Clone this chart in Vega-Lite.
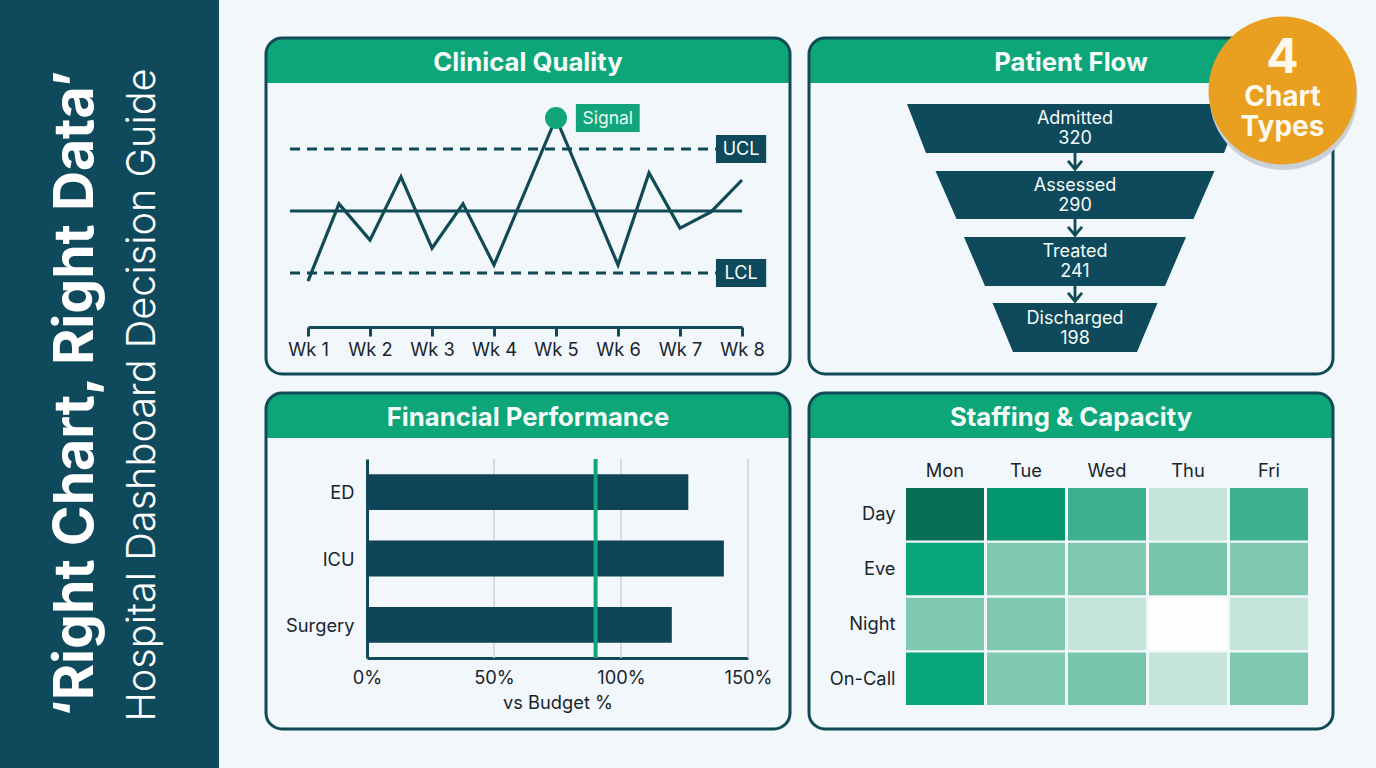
{"$schema":"https://vega.github.io/schema/vega-lite/v6.json","background":"#f2f7fb","padding":0,"autosize":{"type":"pad"},"spacing":0,
"config":{"view":{"stroke":null},"font":"Inter","axis":{"labelFont":"Inter","titleFont":"Inter","labelColor":"#17252c","titleColor":"#17252c","labelFontSize":18.3,"titleFontSize":18.3,"titleFontWeight":"normal","grid":false,"labelOverlap":false},"text":{"font":"Inter"}},
"hconcat":[
{"width":219,"height":768,"view":{"fill":"#0f4a5c","stroke":null},"data":{"values":[{"title":"‘Right Chart, Right Data’","subtitle":"Hospital Dashboard Decision Guide"}]},
"layer":[
{"mark":{"type":"text","angle":270,"fontSize":55.3,"fontWeight":"bold","color":"#ffffff","align":"center","baseline":"middle"},"encoding":{"text":{"field":"title"},"x":{"datum":76,"type":"quantitative","scale":{"domain":[0,219]},"axis":null},"y":{"datum":394,"type":"quantitative","scale":{"domain":[768,0]},"axis":null}}},
{"mark":{"type":"text","angle":270,"fontSize":39.7,"fontWeight":300,"color":"#ffffff","align":"center","baseline":"middle"},"encoding":{"text":{"field":"subtitle"},"x":{"datum":143,"type":"quantitative","scale":{"domain":[0,219]},"axis":null},"y":{"datum":395,"type":"quantitative","scale":{"domain":[768,0]},"axis":null}}}
]},
{"width":45,"height":1,"data":{"values":[{"s":1}]},"mark":{"type":"rect","opacity":0}},
{"bounds":"flush","spacing":0,"vconcat":[
{"width":1,"height":38,"data":{"values":[{"s":1}]},"mark":{"type":"rect","opacity":0}},
{"bounds":"flush","spacing":19,"columns":2,"concat":[
{"width":524,"height":336,"resolve":{"scale":{"x":"independent","y":"independent"}},"layer":[
{"data":{"values":[{"panel":"Clinical Quality"}]},"layer":[
{"mark":{"type":"rect","fill":"#0ca678","cornerRadiusTopLeft":15,"cornerRadiusTopRight":15},"encoding":{"x":{"datum":0,"type":"quantitative","scale":{"domain":[0,1]},"axis":null},"x2":{"datum":1},"y":{"datum":0.866,"type":"quantitative","scale":{"domain":[0,1]},"axis":null},"y2":{"datum":1}}},
{"mark":{"type":"text","fontSize":25.7,"fontWeight":"bold","color":"#f4fbf8","align":"center","baseline":"middle"},"encoding":{"text":{"field":"panel"},"x":{"datum":0.5,"type":"quantitative","scale":{"domain":[0,1]},"axis":null},"y":{"datum":0.927,"type":"quantitative","scale":{"domain":[0,1]},"axis":null}}},
{"mark":{"type":"rect","filled":false,"stroke":"#0f4a56","strokeWidth":3,"cornerRadius":16},"encoding":{"x":{"datum":0,"type":"quantitative","scale":{"domain":[0,1]},"axis":null},"x2":{"datum":1},"y":{"datum":0,"type":"quantitative","scale":{"domain":[0,1]},"axis":null},"y2":{"datum":1}}}
]},
{"layer":[
{"data":{"values":[{"name":"UCL","v":120,"from":0.71,"to":7.58},{"name":"LCL","v":80,"from":0.71,"to":7.58}]},"mark":{"type":"rule","stroke":"#0f4a56","strokeWidth":3,"strokeDash":[10,7]},"encoding":{"x":{"field":"from","type":"quantitative","scale":{"domain":[1,8],"range":[42,476],"nice":false,"zero":false},"title":null,"axis":{"values":[1,2,3,4,5,6,7,8],"labelExpr":"'Wk ' + datum.value","offset":-47,"domainColor":"#0f4a56","domainWidth":3,"tickColor":"#0f4a56","tickWidth":3,"tickSize":9,"labelPadding":5,"labelBaseline":"top","labelFlush":false}},"x2":{"field":"to"},"y":{"field":"v","type":"quantitative","axis":null,"scale":{"domain":[80,120],"range":[235,111],"nice":false,"zero":false}}}},
{"data":{"values":[{"name":"Mean","v":100,"from":0.71,"to":8}]},"mark":{"type":"rule","stroke":"#0f4a56","strokeWidth":2.8},"encoding":{"x":{"field":"from","type":"quantitative"},"x2":{"field":"to"},"y":{"field":"v","type":"quantitative"}}},
{"data":{"values":[{"week":1,"v":77.4},{"week":1.5,"v":102.3},{"week":2,"v":90.6},{"week":2.5,"v":111},{"week":3,"v":88},{"week":3.5,"v":102.3},{"week":4,"v":82.6},{"week":5,"v":130},{"week":6,"v":82.6},{"week":6.5,"v":112.3},{"week":7,"v":94.5},{"week":7.5,"v":99.7},{"week":8,"v":110}]},"mark":{"type":"line","stroke":"#0f4a56","strokeWidth":3.2,"strokeJoin":"miter"},"encoding":{"x":{"field":"week","type":"quantitative"},"y":{"field":"v","type":"quantitative"}}},
{"data":{"values":[{"week":5,"v":130}]},"mark":{"type":"point","filled":true,"opacity":1,"fill":"#12a57c","size":484},"encoding":{"x":{"field":"week","type":"quantitative"},"y":{"field":"v","type":"quantitative"}}},
{"data":{"values":[{"name":"UCL","a":7.58,"b":8.39,"lo":115.5,"hi":124.5,"mid":119.6,"c":7.985},{"name":"LCL","a":7.58,"b":8.39,"lo":75.5,"hi":84.5,"mid":79.6,"c":7.985}]},"layer":[
{"mark":{"type":"rect","fill":"#0f4a5c"},"encoding":{"x":{"field":"a","type":"quantitative"},"x2":{"field":"b"},"y":{"field":"lo","type":"quantitative"},"y2":{"field":"hi"}}},
{"mark":{"type":"text","fontSize":18,"color":"#f4fbf8","align":"center","baseline":"middle"},"encoding":{"text":{"field":"name"},"x":{"field":"c","type":"quantitative"},"y":{"field":"mid","type":"quantitative"}}}
]},
{"data":{"values":[{"name":"Signal","a":5.32,"b":6.35,"lo":125.5,"hi":134.5,"mid":129.7,"c":5.835}]},"layer":[
{"mark":{"type":"rect","fill":"#12a57c"},"encoding":{"x":{"field":"a","type":"quantitative"},"x2":{"field":"b"},"y":{"field":"lo","type":"quantitative"},"y2":{"field":"hi"}}},
{"mark":{"type":"text","fontSize":17.5,"color":"#eafaf4","align":"center","baseline":"middle"},"encoding":{"text":{"field":"name"},"x":{"field":"c","type":"quantitative"},"y":{"field":"mid","type":"quantitative"}}}
]}
]}
]},
{"width":524,"height":336,"resolve":{"scale":{"x":"independent","y":"independent"}},"layer":[
{"data":{"values":[{"panel":"Patient Flow"}]},"layer":[
{"mark":{"type":"rect","fill":"#0ca678","cornerRadiusTopLeft":15,"cornerRadiusTopRight":15},"encoding":{"x":{"datum":0,"type":"quantitative","scale":{"domain":[0,1]},"axis":null},"x2":{"datum":1},"y":{"datum":0.866,"type":"quantitative","scale":{"domain":[0,1]},"axis":null},"y2":{"datum":1}}},
{"mark":{"type":"text","fontSize":25.7,"fontWeight":"bold","color":"#f4fbf8","align":"center","baseline":"middle"},"encoding":{"text":{"field":"panel"},"x":{"datum":0.5,"type":"quantitative","scale":{"domain":[0,1]},"axis":null},"y":{"datum":0.927,"type":"quantitative","scale":{"domain":[0,1]},"axis":null}}},
{"mark":{"type":"rect","filled":false,"stroke":"#0f4a56","strokeWidth":3,"cornerRadius":16},"encoding":{"x":{"datum":0,"type":"quantitative","scale":{"domain":[0,1]},"axis":null},"x2":{"datum":1},"y":{"datum":0,"type":"quantitative","scale":{"domain":[0,1]},"axis":null},"y2":{"datum":1}}}
]},
{"layer":[
{"data":{"values":[{"stage":"Admitted","p":0,"lo":-168,"hi":168},{"stage":"Admitted","p":49,"lo":-149,"hi":149},{"stage":"Assessed","p":67,"lo":-139.5,"hi":139.5},{"stage":"Assessed","p":115,"lo":-118.5,"hi":118.5},{"stage":"Treated","p":133,"lo":-111,"hi":111},{"stage":"Treated","p":182,"lo":-90,"hi":90},{"stage":"Discharged","p":199,"lo":-82.5,"hi":82.5},{"stage":"Discharged","p":248,"lo":-62,"hi":62}]},"mark":{"type":"area","orient":"horizontal","fill":"#0f4a5c","opacity":1},"encoding":{"x":{"field":"lo","type":"quantitative","axis":null,"scale":{"domain":[-168,168],"range":[98,434],"nice":false,"zero":false}},"x2":{"field":"hi"},"y":{"field":"p","type":"quantitative","axis":null,"scale":{"domain":[0,248],"range":[66,314],"nice":false,"zero":false}},"detail":{"field":"stage"}}},
{"data":{"values":[{"from":49,"to":66,"head":61},{"from":115,"to":132,"head":127},{"from":182,"to":198,"head":193}]},"layer":[
{"mark":{"type":"rule","stroke":"#0f4a56","strokeWidth":2.8},"encoding":{"x":{"datum":0,"type":"quantitative"},"y":{"field":"from","type":"quantitative"},"y2":{"field":"to"}}},
{"mark":{"type":"point","shape":"M-1,-0.6L0,0.6L1,-0.6","filled":false,"stroke":"#0f4a56","strokeWidth":2.8,"size":196,"opacity":1},"encoding":{"x":{"datum":0,"type":"quantitative"},"y":{"field":"head","type":"quantitative"}}}
]},
{"data":{"values":[{"stage":"Admitted","count":320,"a":15,"b":35},{"stage":"Assessed","count":290,"a":82,"b":102},{"stage":"Treated","count":241,"a":148,"b":168},{"stage":"Discharged","count":198,"a":215,"b":235}]},"layer":[
{"mark":{"type":"text","fontSize":18,"color":"#f4fbf8","align":"center","baseline":"middle"},"encoding":{"text":{"field":"stage"},"x":{"datum":0,"type":"quantitative"},"y":{"field":"a","type":"quantitative"}}},
{"mark":{"type":"text","fontSize":18,"color":"#f4fbf8","align":"center","baseline":"middle"},"encoding":{"text":{"field":"count"},"x":{"datum":0,"type":"quantitative"},"y":{"field":"b","type":"quantitative"}}}
]},
{"data":{"values":[{"name":"shadow"}]},"mark":{"type":"point","filled":true,"fill":"#c9d0d8","opacity":1,"size":21900},"encoding":{"x":{"datum":208.5,"type":"quantitative"},"y":{"datum":-8,"type":"quantitative"}}},
{"data":{"values":[{"name":"badge"}]},"mark":{"type":"point","filled":true,"fill":"#e99f20","opacity":1,"size":21900},"encoding":{"x":{"datum":207.5,"type":"quantitative"},"y":{"datum":-13.5,"type":"quantitative"}}},
{"data":{"values":[{"n":"4"}]},"mark":{"type":"text","fontSize":48,"fontWeight":"bold","color":"#fff8ec","align":"center","baseline":"middle"},"encoding":{"text":{"field":"n"},"x":{"datum":207.5,"type":"quantitative"},"y":{"datum":-45,"type":"quantitative"}}},
{"data":{"values":[{"n":"Chart"}]},"mark":{"type":"text","fontSize":28,"fontWeight":"bold","color":"#fff8ec","align":"center","baseline":"middle"},"encoding":{"text":{"field":"n"},"x":{"datum":207.5,"type":"quantitative"},"y":{"datum":-6,"type":"quantitative"}}},
{"data":{"values":[{"n":"Types"}]},"mark":{"type":"text","fontSize":28,"fontWeight":"bold","color":"#fff8ec","align":"center","baseline":"middle"},"encoding":{"text":{"field":"n"},"x":{"datum":207.5,"type":"quantitative"},"y":{"datum":24,"type":"quantitative"}}}
]}
]},
{"width":524,"height":336,"resolve":{"scale":{"x":"independent","y":"independent"}},"layer":[
{"data":{"values":[{"panel":"Financial Performance"}]},"layer":[
{"mark":{"type":"rect","fill":"#0ca678","cornerRadiusTopLeft":15,"cornerRadiusTopRight":15},"encoding":{"x":{"datum":0,"type":"quantitative","scale":{"domain":[0,1]},"axis":null},"x2":{"datum":1},"y":{"datum":0.866,"type":"quantitative","scale":{"domain":[0,1]},"axis":null},"y2":{"datum":1}}},
{"mark":{"type":"text","fontSize":25.7,"fontWeight":"bold","color":"#f4fbf8","align":"center","baseline":"middle"},"encoding":{"text":{"field":"panel"},"x":{"datum":0.5,"type":"quantitative","scale":{"domain":[0,1]},"axis":null},"y":{"datum":0.927,"type":"quantitative","scale":{"domain":[0,1]},"axis":null}}},
{"mark":{"type":"rect","filled":false,"stroke":"#0f4a56","strokeWidth":3,"cornerRadius":16},"encoding":{"x":{"datum":0,"type":"quantitative","scale":{"domain":[0,1]},"axis":null},"x2":{"datum":1},"y":{"datum":0,"type":"quantitative","scale":{"domain":[0,1]},"axis":null},"y2":{"datum":1}}}
]},
{"resolve":{"scale":{"y":"independent"}},"layer":[
{"data":{"values":[{"pct":50},{"pct":100},{"pct":150}]},"mark":{"type":"rule","stroke":"#cbd2d7","strokeWidth":1.5},"encoding":{"x":{"field":"pct","type":"quantitative","title":"vs Budget %","scale":{"domain":[0,150],"range":[101,482],"nice":false},"axis":{"values":[0,50,100,150],"labelExpr":"datum.value + '%'","offset":-71,"domainColor":"#0f4a56","domainWidth":3,"ticks":false,"labelPadding":11,"titlePadding":8,"labelFlush":false}},"y":{"datum":0,"type":"quantitative","axis":null,"scale":{"domain":[0,1],"range":[265,66]}},"y2":{"datum":1}}},
{"data":{"values":[{"dept":"ED","pct":126.5},{"dept":"ICU","pct":140.5},{"dept":"Surgery","pct":120}]},"mark":{"type":"bar","fill":"#0f4456","opacity":1},"encoding":{"x":{"field":"pct","type":"quantitative"},"y":{"field":"dept","type":"nominal","title":null,"sort":["ED","ICU","Surgery"],"scale":{"domain":["ED","ICU","Surgery"],"range":[66,265],"paddingInner":0.459,"paddingOuter":0.2295},"axis":{"offset":-101,"domainColor":"#0f4a56","domainWidth":3,"ticks":false,"labelPadding":13,"labelOffset":2}}}},
{"data":{"values":[{"target":90}]},"mark":{"type":"rule","stroke":"#12a57c","strokeWidth":4},"encoding":{"x":{"field":"target","type":"quantitative"},"y":{"datum":0,"type":"quantitative","axis":null,"scale":{"domain":[0,1],"range":[265,66]}},"y2":{"datum":1}}}
]}
]},
{"width":524,"height":336,"resolve":{"scale":{"x":"independent","y":"independent"}},"layer":[
{"data":{"values":[{"panel":"Staffing & Capacity"}]},"layer":[
{"mark":{"type":"rect","fill":"#0ca678","cornerRadiusTopLeft":15,"cornerRadiusTopRight":15},"encoding":{"x":{"datum":0,"type":"quantitative","scale":{"domain":[0,1]},"axis":null},"x2":{"datum":1},"y":{"datum":0.866,"type":"quantitative","scale":{"domain":[0,1]},"axis":null},"y2":{"datum":1}}},
{"mark":{"type":"text","fontSize":25.7,"fontWeight":"bold","color":"#f4fbf8","align":"center","baseline":"middle"},"encoding":{"text":{"field":"panel"},"x":{"datum":0.5,"type":"quantitative","scale":{"domain":[0,1]},"axis":null},"y":{"datum":0.927,"type":"quantitative","scale":{"domain":[0,1]},"axis":null}}},
{"mark":{"type":"rect","filled":false,"stroke":"#0f4a56","strokeWidth":3,"cornerRadius":16},"encoding":{"x":{"datum":0,"type":"quantitative","scale":{"domain":[0,1]},"axis":null},"x2":{"datum":1},"y":{"datum":0,"type":"quantitative","scale":{"domain":[0,1]},"axis":null},"y2":{"datum":1}}}
]},
{"data":{"values":[
{"shift":"Day","day":"Mon","v":98},{"shift":"Day","day":"Tue","v":85},{"shift":"Day","day":"Wed","v":65},{"shift":"Day","day":"Thu","v":25},{"shift":"Day","day":"Fri","v":65},
{"shift":"Eve","day":"Mon","v":80},{"shift":"Eve","day":"Tue","v":50},{"shift":"Eve","day":"Wed","v":50},{"shift":"Eve","day":"Thu","v":52},{"shift":"Eve","day":"Fri","v":50},
{"shift":"Night","day":"Mon","v":50},{"shift":"Night","day":"Tue","v":50},{"shift":"Night","day":"Wed","v":25},{"shift":"Night","day":"Thu","v":5},{"shift":"Night","day":"Fri","v":25},
{"shift":"On-Call","day":"Mon","v":80},{"shift":"On-Call","day":"Tue","v":50},{"shift":"On-Call","day":"Wed","v":52},{"shift":"On-Call","day":"Thu","v":25},{"shift":"On-Call","day":"Fri","v":50}
]},"mark":{"type":"rect"},"encoding":{
"x":{"field":"day","type":"nominal","title":null,"sort":["Mon","Tue","Wed","Thu","Fri"],"scale":{"domain":["Mon","Tue","Wed","Thu","Fri"],"range":[97,499],"paddingInner":0.037,"paddingOuter":0},"axis":{"orient":"top","offset":-88,"domain":false,"ticks":false,"labelAngle":0,"labelPadding":1}},
"y":{"field":"shift","type":"nominal","title":null,"sort":["Day","Eve","Night","On-Call"],"scale":{"domain":["Day","Eve","Night","On-Call"],"range":[95,312],"paddingInner":0.045,"paddingOuter":0},"axis":{"offset":-97,"domain":false,"ticks":false,"labelPadding":11,"labelOffset":1}},
"color":{"field":"v","type":"quantitative","legend":null,"scale":{"domain":[5,25,50,65,80,98],"range":["#fdfefe","#c6e5da","#7fc9b0","#3fb08d","#07a577","#066f55"]}}
}}
]}
]}
]},
{"width":20,"height":1,"data":{"values":[{"s":1}]},"mark":{"type":"rect","opacity":0}}
]}
